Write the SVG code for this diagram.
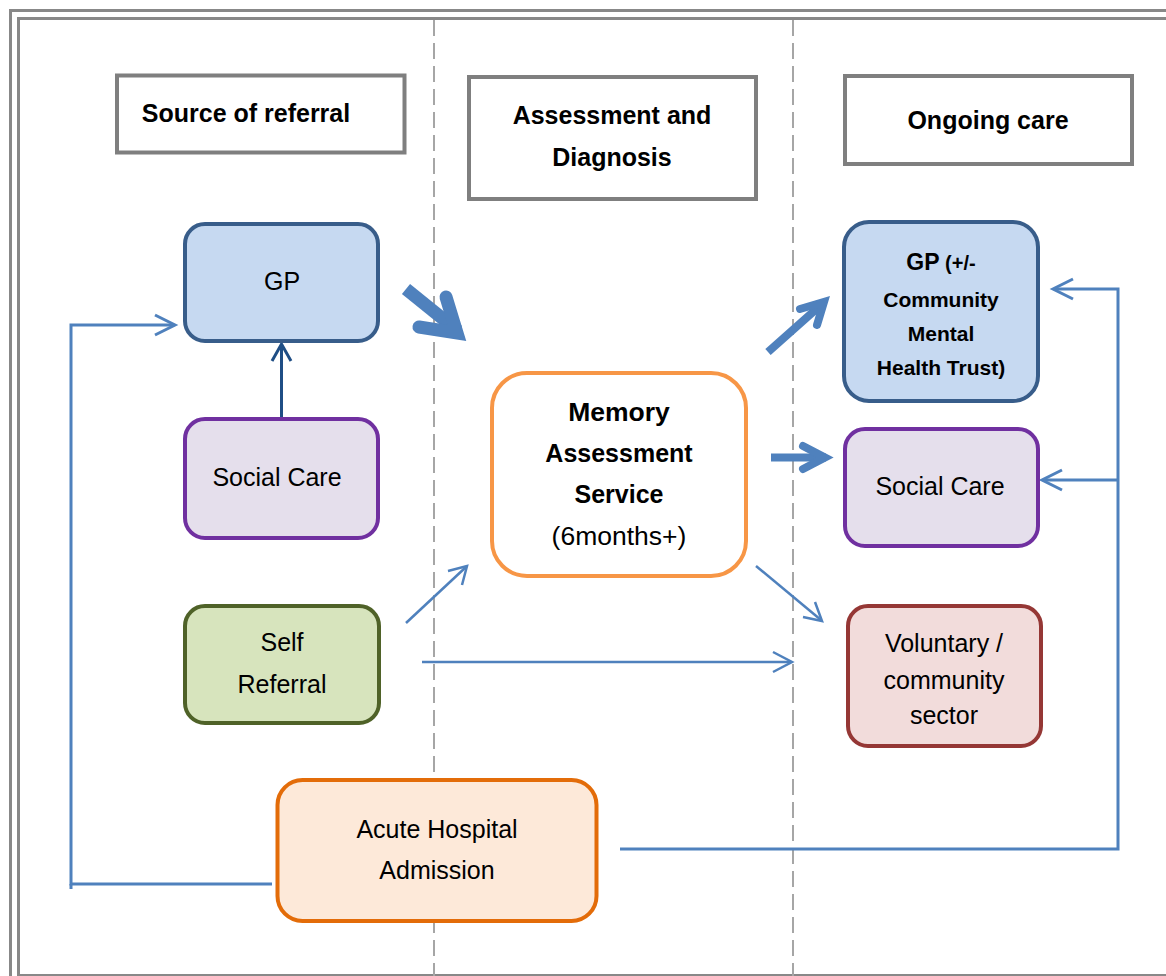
<svg xmlns="http://www.w3.org/2000/svg" width="1166" height="976" viewBox="0 0 1166 976">
<style>
text{font-family:"Liberation Sans",Arial,sans-serif;fill:#000;text-anchor:middle}
.b{font-weight:bold}
.n{font-size:25px}
.h{font-size:25px;font-weight:bold}
.s{font-size:21px;font-weight:bold}
.frame{fill:none;stroke:#888;stroke-width:3}
.hdr{fill:#fff;stroke:#7f7f7f;stroke-width:4}
.lane{stroke:#a6a6a6;stroke-width:2;stroke-dasharray:16 7;fill:none}
.thin{fill:none;stroke:#4f81bd;stroke-width:2.5}
.loop{fill:none;stroke:#4f81bd;stroke-width:3}
.big{fill:none;stroke:#4f81bd}
</style>
<rect width="1166" height="976" fill="#fff"/>
<rect class="frame" x="10.5" y="10.5" width="1200" height="1000"/>
<rect class="frame" x="18.5" y="18.5" width="1200" height="957"/>
<line class="lane" x1="434" y1="20" x2="434" y2="976"/>
<line class="lane" x1="793" y1="20" x2="793" y2="976"/>

<g id="header-source">
<rect class="hdr" x="117" y="75.5" width="287.5" height="77"/>
<text class="h" x="246" y="122">Source of referral</text>
</g>
<g id="header-assessment">
<rect class="hdr" x="469" y="77" width="287" height="122"/>
<text class="h" x="612" y="124">Assessment and</text>
<text class="h" x="612" y="166">Diagnosis</text>
</g>
<g id="header-ongoing">
<rect class="hdr" x="845" y="76" width="287" height="88"/>
<text class="h" x="988" y="129">Ongoing care</text>
</g>

<g id="connectors">
<line x1="281.5" y1="418" x2="281.5" y2="345" stroke="#1f4e85" stroke-width="3"/>
<polyline points="272,361 281.5,344 291,361" fill="none" stroke="#1f4e85" stroke-width="3"/>
<polyline class="loop" points="272,884 71,884 71,325 174,325"/>
<line class="loop" x1="71" y1="884" x2="71" y2="889"/>
<polyline class="loop" points="155,315 175,325 155,335"/>
<polyline class="loop" points="620,849 1118,849 1118,289 1055,289"/>
<polyline class="loop" points="1073,279 1053,289 1073,299"/>
<line class="loop" x1="1118" y1="480" x2="1045" y2="480"/>
<polyline class="loop" points="1062,470 1042,480 1062,490"/>
<line class="big" x1="406" y1="289" x2="458" y2="331" stroke-width="13"/>
<polyline class="big" points="446,297 457,333 419,327" stroke-width="13" stroke-linecap="round" stroke-linejoin="miter"/>
<line class="big" x1="768" y1="352" x2="822" y2="304" stroke-width="8"/>
<polyline class="big" points="800,309 824,302 817,325" stroke-width="8" stroke-linecap="round" stroke-linejoin="miter"/>
<line class="big" x1="771" y1="457.5" x2="826" y2="457.5" stroke-width="8"/>
<polyline class="big" points="803,446 825,457.5 803,469" stroke-width="8" stroke-linecap="round" stroke-linejoin="miter"/>
<line class="thin" x1="406" y1="623" x2="466" y2="567"/>
<polyline class="thin" points="448,571 467,566 462,585"/>
<line class="thin" x1="756" y1="566" x2="821" y2="620"/>
<polyline class="thin" points="803,617 822,621 815,602"/>
<line class="thin" x1="422" y1="662" x2="791" y2="662"/>
<polyline class="thin" points="773,652 792,662 773,672"/>
</g>

<g id="node-gp-referral">
<rect x="185" y="224" width="193" height="117" rx="20" fill="#c6d9f1" stroke="#385d8a" stroke-width="4"/>
<text class="n" x="282" y="290">GP</text>
</g>
<g id="node-social-care-referral">
<rect x="185" y="419" width="193" height="119" rx="20" fill="#e5dfec" stroke="#7030a0" stroke-width="4"/>
<text class="n" x="277" y="486">Social Care</text>
</g>
<g id="node-self-referral">
<rect x="185" y="606" width="194" height="117" rx="20" fill="#d7e4bd" stroke="#4f6228" stroke-width="4"/>
<text class="n" x="282" y="651">Self</text>
<text class="n" x="282" y="693">Referral</text>
</g>
<g id="node-acute-hospital">
<rect x="277.5" y="780" width="319" height="141" rx="25" fill="#fde9d9" stroke="#e36c09" stroke-width="4"/>
<text class="n" x="437" y="838">Acute Hospital</text>
<text class="n" x="437" y="879">Admission</text>
</g>
<g id="node-memory-assessment">
<rect x="492" y="373" width="254" height="203" rx="35" fill="#fff" stroke="#f79646" stroke-width="4"/>
<text class="h" x="619" y="421" style="font-size:26.5px">Memory</text>
<text class="h" x="619" y="462">Assessment</text>
<text class="h" x="619" y="503">Service</text>
<text class="n" x="619" y="545" style="font-size:26.5px">(6months+)</text>
</g>
<g id="node-gp-ongoing">
<rect x="844" y="222" width="194" height="179" rx="25" fill="#c6d9f1" stroke="#385d8a" stroke-width="4"/>
<text x="941" y="270"><tspan class="b" style="font-size:23px">GP</tspan><tspan class="b" style="font-size:20px"> (+/-</tspan></text>
<text class="s" x="941" y="307">Community</text>
<text class="s" x="941" y="341">Mental</text>
<text class="s" x="941" y="375">Health Trust)</text>
</g>
<g id="node-social-care-ongoing">
<rect x="845" y="429" width="193" height="117" rx="20" fill="#e5dfec" stroke="#7030a0" stroke-width="4"/>
<text class="n" x="940" y="495">Social Care</text>
</g>
<g id="node-voluntary">
<rect x="848" y="606" width="193" height="140" rx="20" fill="#f2dcdb" stroke="#953735" stroke-width="4"/>
<text class="n" x="944" y="652">Voluntary /</text>
<text class="n" x="944" y="689">community</text>
<text class="n" x="944" y="724">sector</text>
</g>
</svg>
